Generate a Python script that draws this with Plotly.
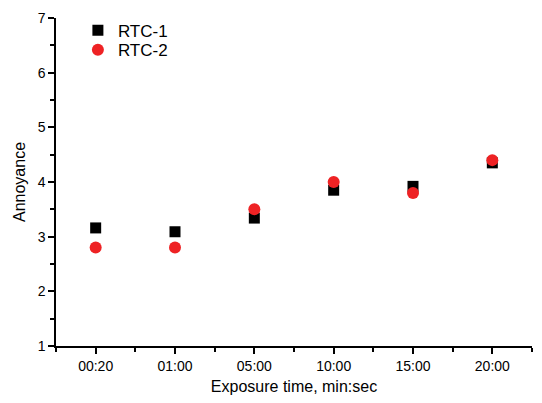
import plotly.graph_objects as go

categories = ["00:20", "01:00", "05:00", "10:00", "15:00", "20:00"]
rtc1 = [3.16, 3.09, 3.34, 3.85, 3.92, 4.35]
rtc2 = [2.80, 2.80, 3.50, 4.00, 3.80, 4.40]

xpos = list(range(len(categories)))
font_family = "Liberation Sans, Arial, sans-serif"

fig = go.Figure()
fig.add_trace(go.Scatter(
    x=xpos, y=rtc1, mode="markers", name="RTC-1", legend="legend",
    marker=dict(symbol="square", size=11, color="black"),
))
fig.add_trace(go.Scatter(
    x=xpos, y=rtc2, mode="markers", name="RTC-2", legend="legend2",
    marker=dict(symbol="circle", size=12, color="#ee2224"),
))

legend_style = dict(xanchor="left", yanchor="middle", bgcolor="rgba(0,0,0,0)",
                    font=dict(size=17), itemwidth=30)

fig.update_layout(
    width=542, height=403,
    margin=dict(l=56, r=10, t=15, b=55),
    paper_bgcolor="white", plot_bgcolor="white",
    font=dict(family=font_family, size=14, color="black"),
    showlegend=True,
    legend=dict(x=0.046, y=0.961, **legend_style),
    legend2=dict(x=0.046, y=0.902, **legend_style),
)

fig.update_xaxes(
    range=[-0.5, 5.5],
    tickmode="array", tickvals=xpos, ticktext=categories,
    ticks="outside", ticklen=6, tickwidth=1.5, tickcolor="black",
    showline=True, linecolor="black", linewidth=1.5,
    showgrid=False, zeroline=False,
    tickfont=dict(size=14),
    title=dict(text="Exposure time, min:sec", font=dict(size=16), standoff=8),
    minor=dict(tickmode="array", tickvals=[-0.5, 0.5, 1.5, 2.5, 3.5, 4.5, 5.5],
               ticks="outside", ticklen=4, tickwidth=1.5, tickcolor="black", showgrid=False),
)

fig.update_yaxes(
    range=[1, 7],
    tickmode="linear", tick0=1, dtick=1,
    ticks="outside", ticklen=6, tickwidth=1.5, tickcolor="black",
    showline=True, linecolor="black", linewidth=1.5,
    showgrid=False, zeroline=False,
    tickfont=dict(size=14),
    title=dict(text="Annoyance", font=dict(size=16), standoff=8),
    minor=dict(dtick=0.5, ticks="outside", ticklen=4, tickwidth=1.5, tickcolor="black", showgrid=False),
)

fig.write_html("out.html")
